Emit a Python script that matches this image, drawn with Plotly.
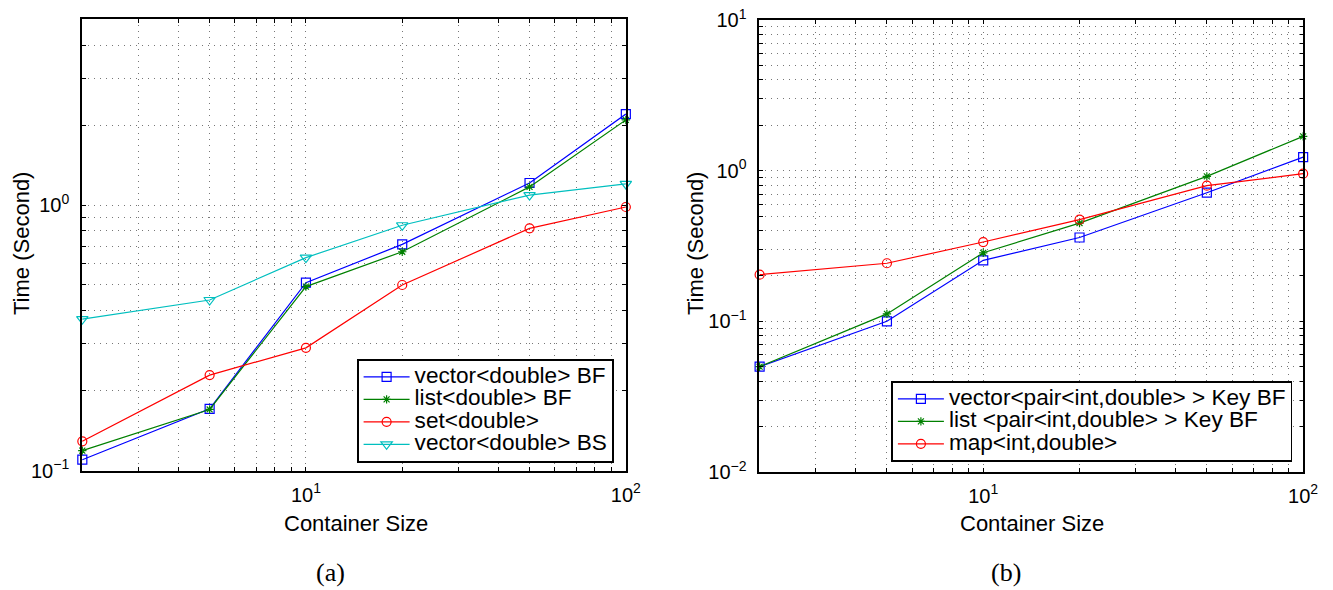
import math
import plotly.graph_objects as go

# Container sizes used in the benchmark
sizes = [2, 5, 10, 20, 50, 100]

# (a) double containers, time in seconds
vec_bf = [0.110, 0.171, 0.51, 0.711, 1.21, 2.20]
list_bf = [0.119, 0.170, 0.493, 0.667, 1.17, 2.09]
set_dbl = [0.129, 0.229, 0.290, 0.500, 0.817, 0.983]
vec_bs = [0.372, 0.439, 0.634, 0.839, 1.09, 1.20]

# (b) key/value containers, time in seconds
vpair_bf = [0.050, 0.100, 0.254, 0.360, 0.714, 1.23]
lpair_bf = [0.050, 0.112, 0.285, 0.449, 0.917, 1.69]
map_id = [0.204, 0.243, 0.336, 0.473, 0.795, 0.955]

names_a = ["vector&lt;double&gt; BF", "list&lt;double&gt; BF",
           "set&lt;double&gt;", "vector&lt;double&gt; BS"]
names_b = ["vector&lt;pair&lt;int,double&gt; &gt; Key BF",
           "list &lt;pair&lt;int,double&gt; &gt; Key BF",
           "map&lt;int,double&gt;"]

BLUE, GREEN, RED, CYAN = "#0000ff", "#008000", "#ff0000", "#00bfbf"
SANS = "Liberation Sans, Arial, sans-serif"
TICKFONT = dict(family=SANS, size=20, color="black")
TXTFONT = dict(family=SANS, size=22, color="black")
# legend rows are packed tightly; the entry text itself is set larger
LEGFONT = dict(family=SANS, size=15, color="black")
LEG_TEXT_PX = 22.6


def legend_label(s):
    return f'<span style="font-size:{LEG_TEXT_PX}px">{s}</span>'


def decade_ticks(lo_exp, hi_exp, lo=None, hi=None):
    vals, text = [], []
    for e in range(lo_exp, hi_exp + 1):
        for m in range(1, 10):
            v = m * 10 ** e
            if hi is not None and v > hi * 1.0001:
                continue
            if lo is not None and v < lo * 0.9999:
                continue
            vals.append(v)
            if m == 1:
                s = str(e).replace("-", "\u2212")
                text.append(f"10<sup>{s}</sup>")
            else:
                text.append("")
    return vals, text


xvals, xtext = decade_ticks(0, 2, lo=2, hi=100)
ya_vals, ya_text = decade_ticks(-1, 0, lo=0.1, hi=5)
yb_vals, yb_text = decade_ticks(-2, 1, lo=0.01, hi=10)

fig = go.Figure()


def add(x, y, name, color, symbol, size, xa, ya, legend):
    fig.add_trace(go.Scatter(
        x=x, y=y, name=legend_label(name), mode="lines+markers", cliponaxis=False,
        line=dict(color=color, width=1.2),
        marker=dict(symbol=symbol, size=size, color=color,
                    line=dict(color=color, width=1.2)),
        xaxis=xa, yaxis=ya, legend=legend,
    ))


add(sizes, vec_bf, names_a[0], BLUE, "square-open", 9, "x", "y", "legend")
add(sizes, list_bf, names_a[1], GREEN, "asterisk-open", 7, "x", "y", "legend")
add(sizes, set_dbl, names_a[2], RED, "circle-open", 9, "x", "y", "legend")
add(sizes, vec_bs, names_a[3], CYAN, "triangle-down-open", 10, "x", "y", "legend")

add(sizes, vpair_bf, names_b[0], BLUE, "square-open", 9, "x2", "y2", "legend2")
add(sizes, lpair_bf, names_b[1], GREEN, "asterisk-open", 7, "x2", "y2", "legend2")
add(sizes, map_id, names_b[2], RED, "circle-open", 9, "x2", "y2", "legend2")

W, H = 1333, 590
XRANGE = [math.log10(2) - 0.001, 2.0005]


def axis_common(vals, text, standoff):
    return dict(
        type="log", tickmode="array", tickvals=vals, ticktext=text,
        showgrid=True, gridcolor="#777777", gridwidth=1, griddash="1px,5px",
        showline=True, linecolor="black", linewidth=1.6, mirror="allticks",
        ticks="inside", ticklen=4, tickcolor="black", tickwidth=1,
        tickfont=TICKFONT, zeroline=False, automargin=False,
        ticklabelstandoff=standoff,
    )


fig.update_layout(
    width=W, height=H, margin=dict(l=0, r=0, t=0, b=0),
    paper_bgcolor="white", plot_bgcolor="white",
    showlegend=True,
    xaxis=dict(axis_common(xvals, xtext, 5), domain=[82 / W, 626 / W],
               range=XRANGE, anchor="y"),
    yaxis=dict(axis_common(ya_vals, ya_text, 7), domain=[1 - 470.7 / H, 1 - 19.3 / H],
               range=[-1, math.log10(5)], anchor="x"),
    xaxis2=dict(axis_common(xvals, xtext, 5), domain=[759.3 / W, 1303.3 / W],
                range=XRANGE, anchor="y2"),
    yaxis2=dict(axis_common(yb_vals, yb_text, 7), domain=[1 - 472 / H, 1 - 20 / H],
                range=[-2, 1], anchor="x2"),
    legend=dict(x=614 / W, y=1 - 463 / H, xanchor="right", yanchor="bottom",
                bgcolor="white", bordercolor="black", borderwidth=1.6,
                font=LEGFONT, itemwidth=46, tracegroupgap=0),
    legend2=dict(x=1292.3 / W, y=1 - 462 / H, xanchor="right", yanchor="bottom",
                 bgcolor="white", bordercolor="black", borderwidth=1.6,
                 font=LEGFONT, itemwidth=46, tracegroupgap=0),
)

notes = [
    dict(text="Container Size", x=356 / W, y=1 - 523 / H),
    dict(text="Container Size", x=1032 / W, y=1 - 523 / H),
    dict(text="Time (Second)", x=22 / W, y=1 - 244 / H, textangle=-90),
    dict(text="Time (Second)", x=696 / W, y=1 - 244 / H, textangle=-90),
]
for n in notes:
    fig.add_annotation(xref="paper", yref="paper", showarrow=False,
                       xanchor="center", yanchor="middle", font=TXTFONT, **n)

for label, cx in (("(a)", 330.5), ("(b)", 1006)):
    fig.add_annotation(text=label, xref="paper", yref="paper", x=cx / W, y=1 - 572 / H,
                       showarrow=False, xanchor="center", yanchor="middle",
                       font=dict(family="Liberation Serif, DejaVu Serif, serif",
                                 size=26, color="black"))

fig.write_html("out.html")
